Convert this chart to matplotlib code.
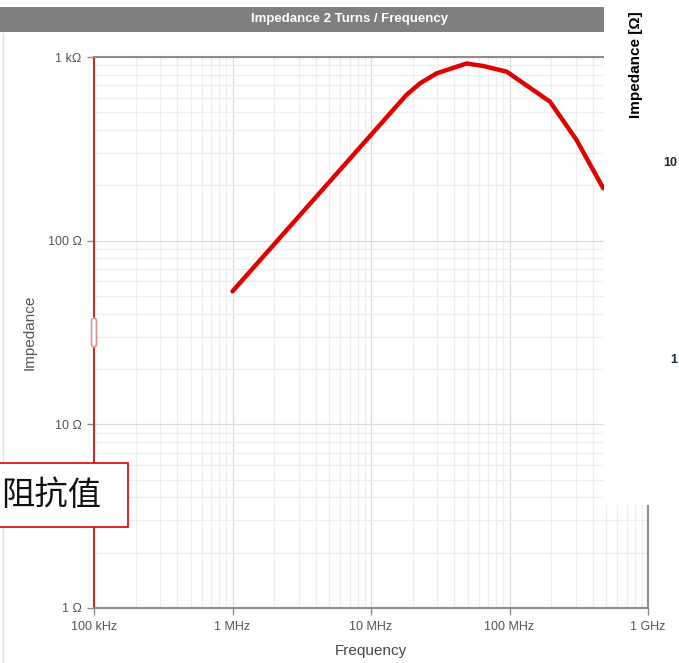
import matplotlib.pyplot as plt
from matplotlib.patches import Rectangle, FancyBboxPatch
from matplotlib.lines import Line2D
from matplotlib.ticker import FixedLocator, FixedFormatter, NullFormatter, LogLocator

plt.rcParams['font.family'] = ['Liberation Sans', 'DejaVu Sans']

# impedance curve (2 turns)
freq_hz = [1.0e6, 18e6, 22.6e6, 29.8e6, 49e6, 64.7e6, 95.5e6, 196e6, 305e6, 475e6]
impedance_ohm = [53, 621, 719, 815, 922, 893, 832, 571, 353, 193]

x_ticks = [1e5, 1e6, 1e7, 1e8, 1e9]
x_labels = ["100 kHz", "1 MHz", "10 MHz", "100 MHz", "1 GHz"]
y_ticks = [1, 10, 100, 1000]
y_labels = ["1 Ω", "10 Ω", "100 Ω", "1 kΩ"]

W, H = 679, 663


def fx(px):
    return px / W


def fy(py):
    # pixel row from top -> figure fraction
    return 1 - py / H


fig = plt.figure(figsize=(W / 100, H / 100), dpi=100)
ax = fig.add_axes([fx(94), fy(608), (648 - 94) / W, (608 - 57) / H])

ax.plot(freq_hz, impedance_ohm, color="#e00000", lw=3.2, solid_capstyle="round",
        solid_joinstyle="round", zorder=3)
ax.set_xscale("log")
ax.set_yscale("log")
ax.set_xlim(1e5, 1e9)
ax.set_ylim(1, 1000)

ax.xaxis.set_major_locator(FixedLocator(x_ticks))
ax.xaxis.set_major_formatter(FixedFormatter(x_labels))
ax.yaxis.set_major_locator(FixedLocator(y_ticks))
ax.yaxis.set_major_formatter(FixedFormatter(y_labels))
ax.xaxis.set_minor_locator(LogLocator(base=10, subs=range(2, 10), numticks=20))
ax.yaxis.set_minor_locator(LogLocator(base=10, subs=range(2, 10), numticks=20))
ax.xaxis.set_minor_formatter(NullFormatter())
ax.yaxis.set_minor_formatter(NullFormatter())

ax.grid(which="major", color="#dcdcdc", lw=0.9)
ax.grid(which="minor", color="#eeeeee", lw=0.9)
ax.set_axisbelow(True)

ax.tick_params(which="major", length=5, width=1, color="#8c8c8c",
               labelsize=9, labelcolor="#555555", pad=4)
ax.tick_params(which="minor", length=0)

for s in ["top", "bottom", "right"]:
    ax.spines[s].set_color("#8c8c8c")
    ax.spines[s].set_linewidth(1.5)
ax.spines["left"].set_color("#c0302a")
ax.spines["left"].set_linewidth(1.5)

ax.set_xlabel("Frequency", fontsize=11, color="#444444", labelpad=8)
ax.set_ylabel("Impedance", fontsize=11, color="#555555", labelpad=8)

# handle on the left axis
fig.patches.append(FancyBboxPatch((fx(91.5), fy(347)), 5 / W, 29 / H,
                                  boxstyle="round,pad=0,rounding_size=0.004",
                                  transform=fig.transFigure, facecolor="white",
                                  edgecolor="#e09090", lw=1.2, zorder=5))

# title bar
fig.patches.append(Rectangle((0, fy(32)), 604 / W, 25 / H, transform=fig.transFigure,
                             facecolor="#7f7f7f", edgecolor="none", zorder=2))
fig.text(fx(350), fy(19), "Impedance 2 Turns / Frequency", color="white",
         fontsize=9.5, fontweight="bold", ha="center", va="center", zorder=3)
fig.lines.append(Line2D([fx(3), fx(3)], [fy(33), 0], transform=fig.transFigure,
                        color="#dddddd", lw=1))

# annotation box
fig.patches.append(Rectangle((fx(-5), fy(527)), 133 / W, 64 / H, transform=fig.transFigure,
                             facecolor="white", edgecolor="#e00000", lw=1.2, zorder=6))
fig.text(fx(1), fy(495), "阻抗值", fontsize=24, color="#111111",
         family=["Noto Sans CJK SC", "DejaVu Sans"], ha="left", va="center", zorder=7)

# pasted fragment of another chart on the right
fig.patches.append(Rectangle((fx(604), fy(505)), 80 / W, 510 / H, transform=fig.transFigure,
                             facecolor="white", edgecolor="none", zorder=8))
fig.text(fx(636), fy(118), "Impedance [Ω]", rotation=90, fontsize=11, fontweight="bold",
         color="black", ha="center", va="bottom", zorder=9)
fig.text(fx(663), fy(163), "10", fontsize=9, fontweight="bold", color="#1c2a44",
         ha="left", va="center", zorder=9)
fig.text(fx(670), fy(360), "1", fontsize=9, fontweight="bold", color="#1c2a44",
         ha="left", va="center", zorder=9)

fig.savefig("out.png", dpi=100)
